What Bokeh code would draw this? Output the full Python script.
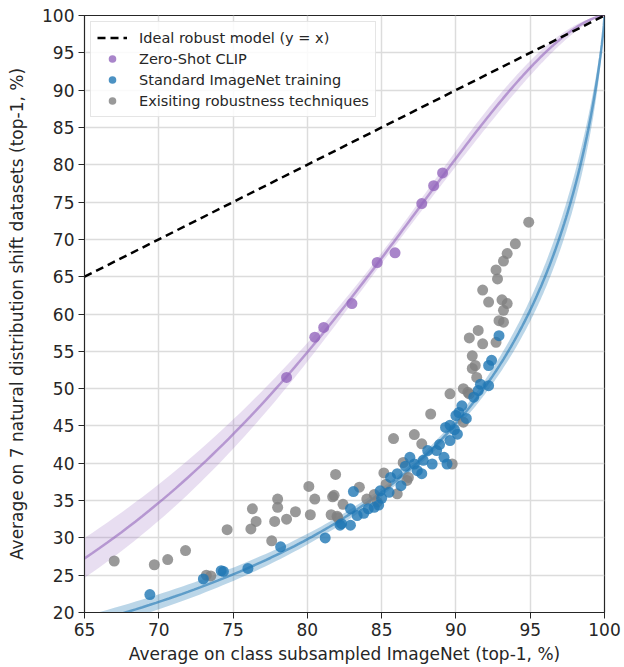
import numpy as np
from bokeh.plotting import figure
from bokeh.models import Legend, LegendItem, FixedTicker
from bokeh.embed import file_html
from bokeh.resources import INLINE

# ---------------- data ----------------
ideal_x = [65, 100]
ideal_y = [65, 100]

clip_x = [78.6, 80.5, 81.1, 83.0, 84.7, 85.9, 87.7, 88.5, 89.1]
clip_y = [51.5, 56.9, 58.2, 61.4, 66.9, 68.2, 74.8, 77.2, 78.9]

std_x = [69.4, 73.0, 74.2, 74.35, 76.0, 78.2, 81.2, 82.2, 83.1, 84.1, 84.5, 82.9,
         83.35, 82.3, 82.9, 85.6, 85.5, 86.05, 86.3, 87.2, 87.4, 87.8, 88.1, 87.7,
         86.9, 84.9, 90.1, 89.6, 88.7, 89.2, 89.4, 88.4, 92.9, 92.4, 92.2, 91.65,
         92.2, 91.5, 91.2, 90.4, 90.2, 90.0, 89.6, 89.3, 85.0, 86.6, 88.9, 89.9,
         90.7, 83.8, 84.8]
std_y = [22.4, 24.5, 25.6, 25.5, 25.9, 28.8, 30.0, 31.7, 36.2, 33.9, 34.1, 33.9,
         33.0, 31.9, 31.7, 38.1, 36.1, 38.6, 37.0, 39.9, 39.0, 40.4, 41.7, 38.6,
         40.8, 36.3, 43.9, 43.05, 41.7, 40.8, 39.9, 39.9, 57.1, 53.8, 53.1, 50.6,
         50.4, 49.75, 48.85, 47.7, 46.8, 46.4, 45.1, 44.8, 35.3, 39.6, 42.5, 44.5,
         46.0, 33.3, 34.4]

rob_x = [67.0, 69.7, 70.6, 71.8, 73.2, 73.5, 74.6, 76.3, 76.55, 76.2, 78.0, 78.0,
         77.8, 77.6, 78.6, 79.2, 80.1, 80.5, 80.2, 81.7, 81.9, 81.6, 82.05,
         85.8, 87.2, 87.7, 86.45, 85.15, 85.3, 81.8, 83.5, 84.5, 84.0, 82.4, 82.0,
         86.8, 86.05, 84.7, 89.75, 86.7,
         91.5, 90.9, 91.8, 93.2, 92.9, 92.7, 91.1, 91.3, 91.1, 91.4, 90.5, 90.9,
         89.6, 88.3, 90.5, 90.8,
         94.9, 94.0, 93.45, 93.2, 92.7, 92.8, 91.8, 92.2, 93.1, 93.45, 93.2]
rob_y = [26.9, 26.4, 27.1, 28.3, 25.0, 24.9, 31.1, 33.9, 32.2, 31.2, 35.2, 34.1,
         32.2, 29.6, 32.5, 33.5, 36.9, 35.2, 33.1, 35.5, 38.5, 33.1, 32.7,
         43.3, 43.85, 42.6, 40.1, 38.7, 37.2, 35.7, 36.8, 35.8, 35.2, 34.5, 32.9,
         38.1, 35.9, 34.8, 39.9, 37.7,
         57.8, 56.8, 56.0, 58.9, 59.1, 56.2, 54.4, 53.1, 52.7, 51.5, 50.0, 49.3,
         49.3, 46.6, 45.5, 49.5,
         72.3, 69.4, 68.1, 67.1, 65.9, 64.7, 63.2, 61.6, 61.9, 61.4, 60.5]

x_ticks = [65, 70, 75, 80, 85, 90, 95, 100]
y_ticks = [20, 25, 30, 35, 40, 45, 50, 55, 60, 65, 70, 75, 80, 85, 90, 95, 100]

PURPLE = "#9467bd"
BLUE = "#1f77b4"
GRAY = "#7f7f7f"
FONT = "DejaVu Sans"


def logit(p):
    p = np.asarray(p, dtype=float) / 100.0
    return np.log(p / (1 - p))


def expit(z):
    return 100.0 / (1 + np.exp(-z))


def fit_band(xs, ys, xgrid, z=1.96):
    lx, ly = logit(xs), logit(ys)
    b, a = np.polyfit(lx, ly, 1)
    n = len(lx)
    s = np.sqrt(np.sum((ly - (a + b * lx)) ** 2) / (n - 2))
    xbar = lx.mean()
    sxx = np.sum((lx - xbar) ** 2)
    gx = logit(xgrid)
    mid = a + b * gx
    se = s * np.sqrt(1.0 / n + (gx - xbar) ** 2 / sxx)
    return expit(mid), expit(mid - z * se), expit(mid + z * se)


xgrid = 100 - np.geomspace(100 - x_ticks[0], 0.005, 600)

p = figure(frame_width=520, frame_height=597,
           x_range=(x_ticks[0], x_ticks[-1]), y_range=(y_ticks[0], y_ticks[-1]),
           output_backend="svg", toolbar_location=None,
           min_border_left=84, min_border_top=15, min_border_right=20,
           min_border_bottom=20)

p.background_fill_color = "white"
p.outline_line_color = "#262626"
p.outline_line_width = 1.2

for ax in (p.xaxis[0], p.yaxis[0]):
    ax.axis_line_color = "#262626"
    ax.major_tick_line_color = "#262626"
    ax.major_tick_out = 6
    ax.major_tick_in = 0
    ax.minor_tick_line_color = None
    ax.major_label_text_font = FONT
    ax.major_label_text_font_size = "17px"
    ax.major_label_text_color = "#262626"
    ax.axis_label_text_font = FONT
    ax.axis_label_text_font_size = "17px"
    ax.axis_label_text_font_style = "normal"
    ax.axis_label_text_color = "#262626"

p.xaxis.ticker = FixedTicker(ticks=x_ticks)
p.yaxis.ticker = FixedTicker(ticks=y_ticks)
p.xaxis.axis_label = "Average on class subsampled ImageNet (top-1, %)"
p.yaxis.axis_label = "Average on 7 natural distribution shift datasets (top-1, %)"
p.xaxis.axis_label_standoff = 5
p.yaxis.axis_label_standoff = 12
p.xaxis.major_label_standoff = 4
p.yaxis.major_label_standoff = 4

p.xgrid.grid_line_color = "#dcdcdc"
p.ygrid.grid_line_color = "#dcdcdc"
p.xgrid.grid_line_width = 1.5
p.ygrid.grid_line_width = 1.5

# fits (logit-space regression with confidence band)
c_mid, c_lo, c_hi = fit_band(clip_x, clip_y, xgrid, z=2.5)
s_mid, s_lo, s_hi = fit_band(std_x, std_y, xgrid, z=2.5)

p.varea(x=xgrid, y1=c_lo, y2=c_hi, fill_color=PURPLE, fill_alpha=0.22)
p.line(xgrid, c_mid, line_color=PURPLE, line_alpha=0.6, line_width=2.5)
p.varea(x=xgrid, y1=s_lo, y2=s_hi, fill_color=BLUE, fill_alpha=0.3)
p.line(xgrid, s_mid, line_color=BLUE, line_alpha=0.6, line_width=2.5)

r_ideal = p.line(ideal_x, ideal_y, line_color="black", line_width=2.5,
                 line_dash="8 5")

r_rob = p.scatter(rob_x, rob_y, size=11, fill_color=GRAY, fill_alpha=0.8,
                  line_color=None)
r_std = p.scatter(std_x, std_y, size=11, fill_color=BLUE, fill_alpha=0.8,
                  line_color=None)
r_clip = p.scatter(clip_x, clip_y, size=11, fill_color=PURPLE, fill_alpha=0.8,
                   line_color=None)

legend = Legend(items=[
    LegendItem(label="Ideal robust model (y = x)", renderers=[r_ideal]),
    LegendItem(label="Zero-Shot CLIP", renderers=[r_clip]),
    LegendItem(label="Standard ImageNet training", renderers=[r_std]),
    LegendItem(label="Exisiting robustness techniques", renderers=[r_rob]),
], location="top_left")
legend.label_text_font = FONT
legend.label_text_font_size = "14.5px"
legend.label_text_color = "#262626"
legend.border_line_color = "#cccccc"
legend.border_line_width = 1
legend.background_fill_alpha = 0.85
legend.margin = 6
legend.padding = 6
legend.spacing = 2
legend.glyph_width = 30
legend.glyph_height = 19
legend.label_height = 19
legend.label_standoff = 12
p.add_layout(legend)

open("out.html", "w").write(file_html(p, INLINE))
